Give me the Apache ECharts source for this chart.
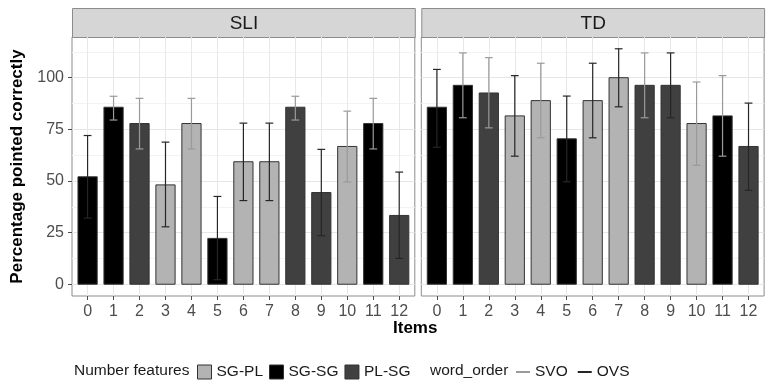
<!DOCTYPE html>
<html>
<head>
<meta charset="utf-8">
<script src="https://cdn.jsdelivr.net/npm/echarts@6/dist/echarts.min.js"></script>
<style>
  html, body { margin: 0; padding: 0; background: #fff; }
  #chart { width: 769px; height: 384px; }
</style>
</head>
<body>
<div id="chart"></div>
<script>
// data
const items = ['0', '1', '2', '3', '4', '5', '6', '7', '8', '9', '10', '11', '12'];
const panels = ['SLI', 'TD'];
const featureNames = ['SG-PL', 'SG-SG', 'PL-SG'];
const orderNames = ['SVO', 'OVS'];
const itemFeature = ['SG-SG', 'SG-SG', 'PL-SG', 'SG-PL', 'SG-PL', 'SG-SG', 'SG-PL', 'SG-PL', 'PL-SG', 'PL-SG', 'SG-PL', 'SG-SG', 'PL-SG'];
const itemOrder = ['OVS', 'SVO', 'SVO', 'OVS', 'SVO', 'OVS', 'OVS', 'OVS', 'SVO', 'OVS', 'SVO', 'SVO', 'OVS'];

const sliValues = [52, 85.7, 77.8, 48.1, 77.8, 22.2, 59.3, 59.3, 85.7, 44.4, 66.7, 77.8, 33.3];
const sliLow = [32, 79.5, 65.5, 27.8, 65.5, 2.2, 40.5, 40.5, 79.5, 23.5, 49.5, 65.5, 12.5];
const sliHigh = [72, 91, 90, 68.8, 90, 42.5, 78, 78, 91, 65.3, 83.8, 90, 54.3];

const tdValues = [85.7, 96.3, 92.6, 81.5, 88.9, 70.4, 88.9, 100, 96.3, 96.3, 77.8, 81.5, 66.7];
const tdLow = [66.3, 80.6, 75.7, 62, 70.9, 49.6, 70.9, 85.9, 80.6, 80.6, 57.6, 62, 45.5];
const tdHigh = [104, 112, 109.7, 101, 107, 91.1, 107, 114, 112, 112, 97.9, 101, 87.7];

const yTicks = [0, 25, 50, 75, 100];
const yMinor = [12.5, 37.5, 62.5, 87.5, 112.5];

const featureColors = { 'SG-PL': '#b3b3b3', 'SG-SG': '#000000', 'PL-SG': '#404040' };
const orderColors = { 'SVO': '#9a9a9a', 'OVS': '#262626' };

const values = [sliValues, tdValues];
const lows = [sliLow, tdLow];
const highs = [sliHigh, tdHigh];

const font = 'Liberation Sans, Arial, sans-serif';
const gridLeft = [72, 421.3];
const gridWidth = 342.8;
const gridTop = 37;
const gridHeight = 259;
const barHalf = 0.37;
const capHalf = 0.15;

const chart = echarts.init(document.getElementById('chart'));

function renderBar(params, api) {
  const x = api.value(0);
  const v = api.value(1);
  const p0 = api.coord([x - barHalf, v]);
  const p1 = api.coord([x + barHalf, 0]);
  return {
    type: 'rect',
    shape: { x: p0[0], y: p0[1], width: p1[0] - p0[0], height: p1[1] - p0[1] },
    style: api.style({ stroke: '#333333', lineWidth: 1 })
  };
}

function renderErr(params, api) {
  const x = api.value(0);
  const lo = api.value(1);
  const hi = api.value(2);
  const top = api.coord([x, hi]);
  const bot = api.coord([x, lo]);
  const capL = api.coord([x - capHalf, hi])[0];
  const capR = api.coord([x + capHalf, hi])[0];
  const stroke = api.visual('color');
  const st = { stroke: stroke, lineWidth: 1.2 };
  return {
    type: 'group',
    children: [
      { type: 'line', shape: { x1: top[0], y1: top[1], x2: bot[0], y2: bot[1] }, style: st },
      { type: 'line', shape: { x1: capL, y1: top[1], x2: capR, y2: top[1] }, style: st },
      { type: 'line', shape: { x1: capL, y1: bot[1], x2: capR, y2: bot[1] }, style: st }
    ]
  };
}

const grids = [];
const xAxes = [];
const yAxes = [];
const series = [];
const graphics = [];

panels.forEach(function (name, p) {
  grids.push({
    left: gridLeft[p], top: gridTop, width: gridWidth, height: gridHeight,
    show: true, borderColor: '#8c8c8c', borderWidth: 1, backgroundColor: '#fff'
  });
  xAxes.push({
    type: 'value', gridIndex: p, min: -0.6, max: 12.6,
    axisLine: { show: false, onZero: false },
    axisTick: { show: true, length: 4, lineStyle: { color: '#4d4d4d' }, customValues: items.map(Number) },
    axisLabel: {
      customValues: items.map(Number), color: '#4d4d4d', fontSize: 16, fontFamily: font, margin: 8,
      formatter: function (v) { return items[Math.round(v)]; }
    },
    splitLine: { show: true, lineStyle: { color: '#e8e8e8', width: 1 } }
  });
  // major y axis
  yAxes.push({
    type: 'value', gridIndex: p, min: -5.7, max: 119.7,
    axisLine: { show: false, onZero: false },
    axisTick: { show: p === 0, length: 4, lineStyle: { color: '#4d4d4d' }, customValues: yTicks },
    axisLabel: { show: p === 0, customValues: yTicks, color: '#4d4d4d', fontSize: 16, fontFamily: font, margin: 8 },
    splitLine: { show: true, lineStyle: { color: '#e6e6e6', width: 1 } },
    name: p === 0 ? 'Percentage pointed correctly' : '',
    nameLocation: 'middle', nameRotate: 90, nameGap: 46,
    nameTextStyle: { fontSize: 17, fontWeight: 'bold', color: '#000', fontFamily: font }
  });
  // minor grid lines
  yAxes.push({
    type: 'value', gridIndex: p, min: -5.7, max: 119.7, position: 'left',
    axisLine: { show: false, onZero: false },
    axisTick: { show: false, customValues: yMinor },
    axisLabel: { show: false, customValues: yMinor },
    splitLine: { show: true, lineStyle: { color: '#f3f3f3', width: 1 } }
  });

  featureNames.forEach(function (f) {
    const data = [];
    items.forEach(function (it, i) {
      if (itemFeature[i] === f) data.push([i, values[p][i]]);
    });
    series.push({
      type: 'custom', name: f, xAxisIndex: p, yAxisIndex: p * 2, z: 2,
      itemStyle: { color: featureColors[f], borderColor: '#333', borderWidth: 1 },
      renderItem: renderBar, encode: { x: 0, y: 1 }, data: data
    });
  });
  orderNames.forEach(function (o) {
    const data = [];
    items.forEach(function (it, i) {
      if (itemOrder[i] === o) data.push([i, lows[p][i], highs[p][i]]);
    });
    series.push({
      type: 'custom', name: o, xAxisIndex: p, yAxisIndex: p * 2, z: 3,
      itemStyle: { color: orderColors[o] },
      renderItem: renderErr, encode: { x: 0, y: [1, 2] }, data: data
    });
  });

  // facet strip
  graphics.push({
    type: 'group', left: gridLeft[p], top: 8,
    children: [
      { type: 'rect', shape: { x: 0, y: 0, width: gridWidth, height: 29 },
        style: { fill: '#d6d6d6', stroke: '#8c8c8c', lineWidth: 1 } },
      { type: 'text', x: gridWidth / 2, y: 15,
        style: { text: name, fill: '#1a1a1a', font: '19px ' + font, textAlign: 'center', textVerticalAlign: 'middle' } }
    ]
  });
});

graphics.push({
  type: 'text', left: 393, top: 320,
  style: { text: 'Items', fill: '#000', font: 'bold 17px ' + font }
});
graphics.push({
  type: 'text', left: 74, top: 363,
  style: { text: 'Number features', fill: '#1a1a1a', font: '15.5px ' + font }
});
graphics.push({
  type: 'text', left: 430, top: 363,
  style: { text: 'word_order', fill: '#1a1a1a', font: '15.5px ' + font }
});

const option = {
  animation: false,
  textStyle: { fontFamily: font },
  grid: grids,
  xAxis: xAxes,
  yAxis: yAxes,
  legend: [
    {
      data: featureNames, left: 192, top: 359, icon: 'rect', itemWidth: 14, itemHeight: 14, itemGap: 6,
      selectedMode: false, textStyle: { fontSize: 15.5, color: '#1a1a1a', fontFamily: font },
      itemStyle: { borderColor: '#333', borderWidth: 1 }
    },
    {
      data: orderNames, left: 511, top: 359, icon: 'rect', itemWidth: 14, itemHeight: 2, itemGap: 10,
      selectedMode: false, textStyle: { fontSize: 15.5, color: '#1a1a1a', fontFamily: font }
    }
  ],
  graphic: graphics,
  series: series
};

chart.setOption(option);
</script>
</body>
</html>
